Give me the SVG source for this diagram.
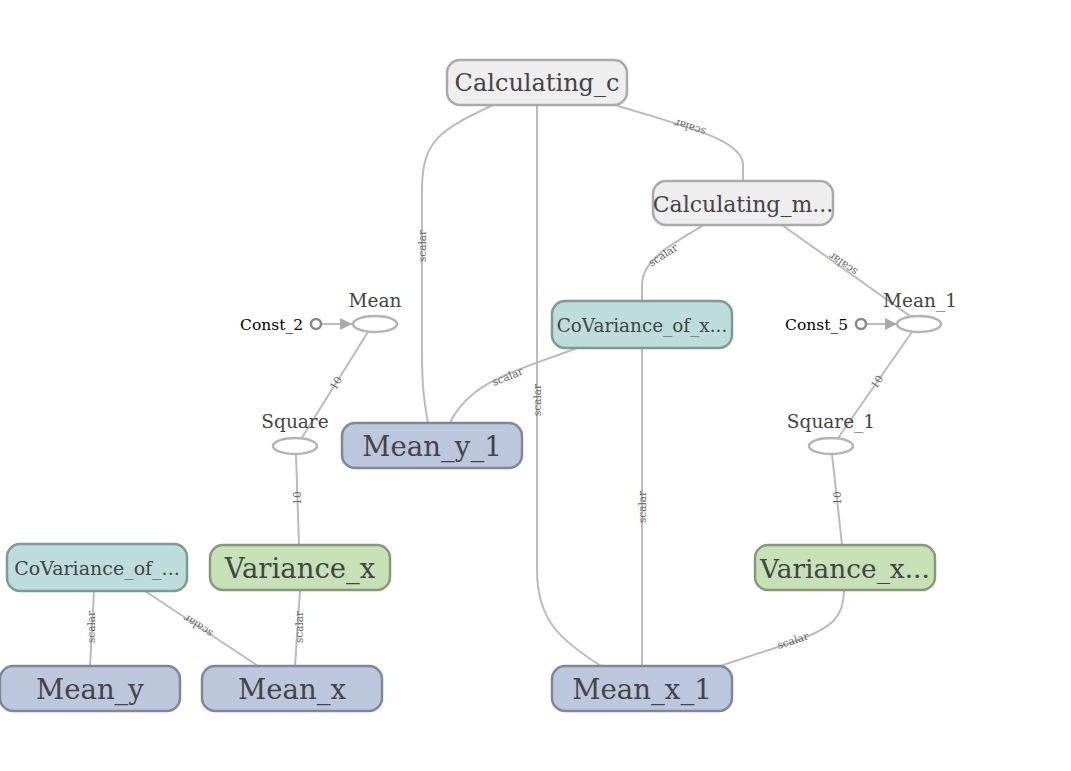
<svg xmlns="http://www.w3.org/2000/svg" width="1071" height="771" viewBox="0 0 1071 771">
<defs>
<marker id="arr" viewBox="0 0 10 10" refX="10" refY="5" markerWidth="12" markerHeight="12" markerUnits="userSpaceOnUse" orient="auto">
<path d="M0,0 L10,5 L0,10 z" fill="#aaaaaa"/>
</marker>
<style>
.edge{fill:none;stroke:#bbbbbb;stroke-width:2}
.elabel{font-family:"DejaVu Serif",serif;font-size:10.5px;fill:#666666;text-anchor:middle}
.meta{fill:#eeeeee;stroke:#aaaaaa;stroke-width:2.5}
.cov{fill:#bddcdc;stroke:#7f9999;stroke-width:2.5}
.mean{fill:#bcc6dd;stroke:#7f8899;stroke-width:2.5}
.var{fill:#c5e1b5;stroke:#87997a;stroke-width:2.5}
.ntext{font-family:"DejaVu Serif",serif;fill:#444444;text-anchor:middle;dominant-baseline:central}
.op{fill:#ffffff;stroke:#b4b4b4;stroke-width:2.5}
.oplabel{font-family:"DejaVu Serif",serif;font-size:18.5px;fill:#444444;text-anchor:middle}
.const{fill:#ffffff;stroke:#888888;stroke-width:2.5}
.clabel{font-family:"DejaVu Serif",serif;font-size:15.5px;fill:#000000;text-anchor:end;dominant-baseline:central}
</style>
</defs>
<rect width="1071" height="771" fill="#ffffff"/>
<g id="connectors">
<path class="edge" d="M493,105 C440,130 422,140 422,190 L422,355 C422,390 425,405 428,423"/>
<path class="edge" d="M537,105 L537,570 C537,620 560,640 601,666"/>
<path class="edge" d="M615,105 C690,128 743,140 743,165 L743,181"/>
<path class="edge" d="M704,225 C670,245 642,260 642,285 L642,301"/>
<path class="edge" d="M782,225 L910,316"/>
<path class="edge" d="M577,348 C520,370 470,380 450,423"/>
<path class="edge" d="M642,348 L642,666"/>
<path class="edge" d="M368,332 L301,439"/>
<path class="edge" d="M296,454 L299,545"/>
<path class="edge" d="M912,332 L838,438"/>
<path class="edge" d="M832,454 L842,545"/>
<path class="edge" d="M844,590 C844,615 835,628 790,643 L720,666"/>
<path class="edge" d="M94,591 L90,666"/>
<path class="edge" d="M145,591 L258,666"/>
<path class="edge" d="M300,590 L295,666"/>
<line class="edge" x1="322" y1="324" x2="352" y2="324" marker-end="url(#arr)"/>
<line class="edge" x1="867" y1="324" x2="897" y2="324" marker-end="url(#arr)"/>
<text class="elabel" transform="translate(426,246) rotate(-90)">scalar</text>
<text class="elabel" transform="translate(541,400) rotate(-90)">scalar</text>
<text class="elabel" transform="translate(691,124) rotate(197)">scalar</text>
<text class="elabel" transform="translate(665,258) rotate(-33)">scalar</text>
<text class="elabel" transform="translate(845,261) rotate(215)">scalar</text>
<text class="elabel" transform="translate(509,380) rotate(-22)">scalar</text>
<text class="elabel" transform="translate(646,507) rotate(-90)">scalar</text>
<text class="elabel" transform="translate(339,385) rotate(-58)">10</text>
<text class="elabel" transform="translate(301,498) rotate(-90)">10</text>
<text class="elabel" transform="translate(880,384) rotate(-55)">10</text>
<text class="elabel" transform="translate(841,498) rotate(-90)">10</text>
<text class="elabel" transform="translate(794,644) rotate(-18)">scalar</text>
<text class="elabel" transform="translate(95,627) rotate(-90)">scalar</text>
<text class="elabel" transform="translate(200,623) rotate(213)">scalar</text>
<text class="elabel" transform="translate(303,627) rotate(-90)">scalar</text>
</g>
<g id="Calculating_c">
<rect class="meta" x="447" y="60" width="180" height="45" rx="13"/>
<text class="ntext" x="537" y="83" font-size="24">Calculating_c</text>
</g>
<g id="Calculating_m">
<rect class="meta" x="653" y="181" width="180" height="44" rx="13"/>
<text class="ntext" x="743" y="204" font-size="22">Calculating_m...</text>
</g>
<g id="CoVariance_of_x">
<rect class="cov" x="552" y="301" width="180" height="47" rx="13"/>
<text class="ntext" x="642" y="325" font-size="18.4">CoVariance_of_x...</text>
</g>
<g id="CoVariance_of">
<rect class="cov" x="7" y="544" width="180" height="47" rx="13"/>
<text class="ntext" x="97" y="568" font-size="19">CoVariance_of_...</text>
</g>
<g id="Mean_y_1">
<rect class="mean" x="342" y="423" width="180" height="45" rx="13"/>
<text class="ntext" x="432" y="446" font-size="27.6">Mean_y_1</text>
</g>
<g id="Variance_x">
<rect class="var" x="210" y="545" width="180" height="45" rx="13"/>
<text class="ntext" x="300" y="568" font-size="27.5">Variance_x</text>
</g>
<g id="Variance_x_1">
<rect class="var" x="755" y="545" width="180" height="45" rx="13"/>
<text class="ntext" x="845" y="568" font-size="26.4">Variance_x...</text>
</g>
<g id="Mean_y">
<rect class="mean" x="0" y="666" width="180" height="45" rx="13"/>
<text class="ntext" x="90" y="689" font-size="27.5">Mean_y</text>
</g>
<g id="Mean_x">
<rect class="mean" x="202" y="666" width="180" height="45" rx="13"/>
<text class="ntext" x="292" y="689" font-size="27.5">Mean_x</text>
</g>
<g id="Mean_x_1">
<rect class="mean" x="552" y="666" width="180" height="45" rx="13"/>
<text class="ntext" x="642" y="689" font-size="27.6">Mean_x_1</text>
</g>
<g id="Mean">
<ellipse class="op" cx="375" cy="324" rx="22" ry="8"/>
<text class="oplabel" x="375" y="307">Mean</text>
</g>
<g id="Square">
<ellipse class="op" cx="295" cy="446" rx="22" ry="8"/>
<text class="oplabel" x="295" y="428">Square</text>
</g>
<g id="Mean_1">
<ellipse class="op" cx="919" cy="324" rx="22" ry="8"/>
<text class="oplabel" x="920" y="307">Mean_1</text>
</g>
<g id="Square_1">
<ellipse class="op" cx="831" cy="446" rx="22" ry="8"/>
<text class="oplabel" x="831" y="428">Square_1</text>
</g>
<g id="Const_2">
<circle class="const" cx="316" cy="324" r="5"/>
<text class="clabel" x="303" y="325">Const_2</text>
</g>
<g id="Const_5">
<circle class="const" cx="861" cy="324" r="5"/>
<text class="clabel" x="848" y="325">Const_5</text>
</g>
</svg>
